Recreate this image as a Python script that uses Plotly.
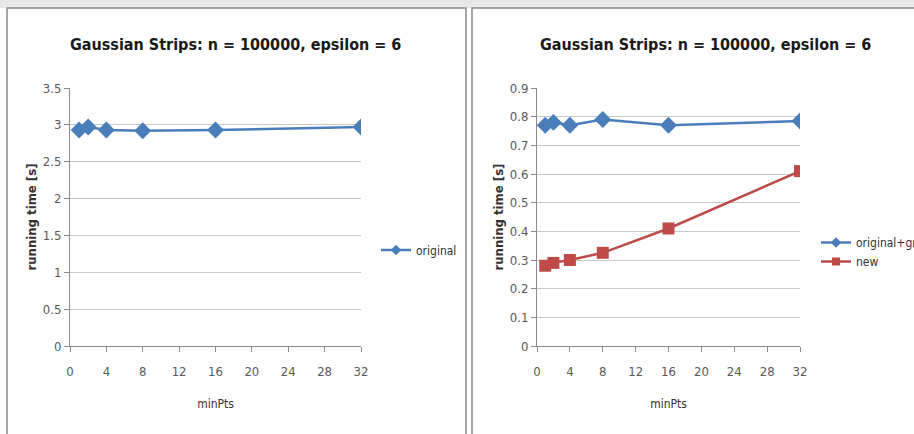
import plotly.graph_objects as go

min_pts = [1, 2, 4, 8, 16, 32]
left_original = [2.93, 2.97, 2.93, 2.92, 2.93, 2.97]
right_original_grid = [0.77, 0.78, 0.77, 0.79, 0.77, 0.785]
right_new = [0.28, 0.29, 0.30, 0.325, 0.41, 0.61]
x_ticks = [0, 4, 8, 12, 16, 20, 24, 28, 32]
title_text = "Gaussian Strips: n = 100000, epsilon = 6"

W, H = 914, 434
BLUE = "#4a7ebb"
RED = "#be4b48"
FONT = "DejaVu Sans Condensed, Liberation Sans Narrow, Liberation Sans, Arial"

def px(x):
    return x / W

def py(y):
    return 1 - y / H

fig = go.Figure()
# data traces (not in legend)
fig.add_trace(go.Scatter(x=min_pts, y=left_original, name="original", mode="lines+markers",
                         line=dict(color=BLUE, width=2.5),
                         marker=dict(symbol="diamond", size=13, color=BLUE),
                         xaxis="x", yaxis="y", showlegend=False))
fig.add_trace(go.Scatter(x=min_pts, y=right_original_grid, name="original+grid", mode="lines+markers",
                         line=dict(color=BLUE, width=2.5),
                         marker=dict(symbol="diamond", size=13, color=BLUE),
                         xaxis="x2", yaxis="y2", showlegend=False))
fig.add_trace(go.Scatter(x=min_pts, y=right_new, name="new", mode="lines+markers",
                         line=dict(color=RED, width=2.5),
                         marker=dict(symbol="square", size=12, color=RED),
                         xaxis="x2", yaxis="y2", showlegend=False))
# legend entries with small markers, as in the reference
fig.add_trace(go.Scatter(x=[None], y=[None], name="original", mode="lines+markers",
                         line=dict(color=BLUE, width=2.5),
                         marker=dict(symbol="diamond", size=8, color=BLUE),
                         xaxis="x", yaxis="y", legend="legend"))
fig.add_trace(go.Scatter(x=[None], y=[None], name="original+grid", mode="lines+markers",
                         line=dict(color=BLUE, width=2.5),
                         marker=dict(symbol="diamond", size=8, color=BLUE),
                         xaxis="x2", yaxis="y2", legend="legend2"))
fig.add_trace(go.Scatter(x=[None], y=[None], name="new", mode="lines+markers",
                         line=dict(color=RED, width=2.5),
                         marker=dict(symbol="square", size=8, color=RED),
                         xaxis="x2", yaxis="y2", legend="legend2"))

axis_common = dict(showline=True, linecolor="#8c8c8c", linewidth=1, ticks="outside",
                   ticklen=5, tickcolor="#8c8c8c", zeroline=False, automargin=False,
                   tickfont=dict(family=FONT, size=13, color="#595959"))

xtitle = dict(text="minPts", font=dict(size=12, color="#333333"), standoff=22)
ytitle = dict(text="<b>running time [s]</b>", font=dict(size=13, color="#333333"), standoff=3)

fig.update_layout(
    width=W, height=H, margin=dict(l=0, r=0, t=0, b=0, autoexpand=False), autosize=False,
    paper_bgcolor="white", plot_bgcolor="white",
    font=dict(family=FONT, color="#333333"),
    xaxis=dict(domain=[px(70), px(361)], range=[0, 32], tickvals=x_ticks, showgrid=False,
               anchor="y", title=xtitle, ticklabelstandoff=8, **axis_common),
    yaxis=dict(domain=[py(346), py(88)], range=[0, 3.5], dtick=0.5, showgrid=True,
               gridcolor="#c8c8c8", anchor="x", title=ytitle, **axis_common),
    xaxis2=dict(domain=[px(537), px(800)], range=[0, 32], tickvals=x_ticks, showgrid=False,
                anchor="y2", title=xtitle, ticklabelstandoff=8, **axis_common),
    yaxis2=dict(domain=[py(346), py(88)], range=[0, 0.9], dtick=0.1, showgrid=True,
                gridcolor="#c8c8c8", anchor="x2", title=ytitle, **axis_common),
    legend=dict(x=px(376), y=py(250), xanchor="left", yanchor="middle", bgcolor="rgba(0,0,0,0)",
                font=dict(family=FONT, size=12, color="#333333"), itemwidth=30),
    legend2=dict(x=px(816), y=py(252), xanchor="left", yanchor="middle", bgcolor="rgba(0,0,0,0)",
                 font=dict(family=FONT, size=12, color="#333333"), itemwidth=30, tracegroupgap=14),
    showlegend=True,
)

fig.add_annotation(x=px(235), y=py(45), xref="paper", yref="paper", text="<b>" + title_text + "</b>",
                   xanchor="center", yanchor="middle",
                   showarrow=False, font=dict(family=FONT, size=16, color="#1a1a1a"))
fig.add_annotation(x=px(705), y=py(45), xref="paper", yref="paper", text="<b>" + title_text + "</b>",
                   xanchor="center", yanchor="middle",
                   showarrow=False, font=dict(family=FONT, size=16, color="#1a1a1a"))

# top grey band and panel borders
fig.add_shape(type="rect", xref="paper", yref="paper", x0=0, x1=1, y0=py(8), y1=1,
              fillcolor="#e8e8e8", line=dict(width=0), layer="below")
fig.add_shape(type="rect", xref="paper", yref="paper", x0=px(7), x1=px(466), y0=py(440), y1=py(8),
              line=dict(color="#8a8a8a", width=1.5), fillcolor="white", layer="below")
fig.add_shape(type="rect", xref="paper", yref="paper", x0=px(472), x1=px(920), y0=py(440), y1=py(8),
              line=dict(color="#8a8a8a", width=1.5), fillcolor="white", layer="below")

fig.write_html("out.html", config={"responsive": False},
               post_script="document.body.style.margin='0';document.body.style.overflow='hidden';")
